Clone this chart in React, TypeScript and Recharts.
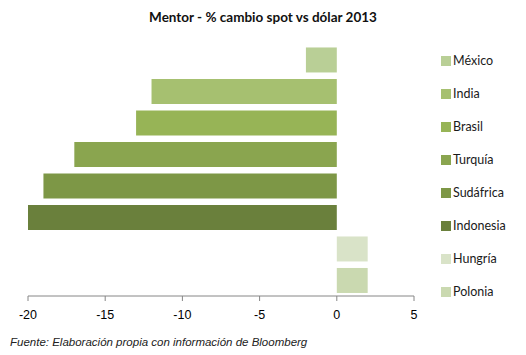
import React from "react";
import { BarChart, Bar, XAxis, YAxis, Cell } from "recharts";

// % change of spot rate vs US dollar, 2013
const countries = ["México", "India", "Brasil", "Turquía", "Sudáfrica", "Indonesia", "Hungría", "Polonia"];
const changes = [-2, -12, -13, -17, -19, -20, 2, 2];
const colors = ["#b9cf96", "#a6c070", "#97b456", "#8aa54f", "#7d9746", "#6a803c", "#d9e3c8", "#cad9b0"];
const xTicks = [-20, -15, -10, -5, 0, 5];

const data = countries.map((name, i) => ({ name, value: changes[i] }));

const legendFont = "Lato, 'Open Sans', sans-serif";

function CountryLegend() {
  return (
    <div style={{ position: "absolute", left: 441, top: 44, display: "flex", flexDirection: "column" }}>
      {countries.map((c, i) => (
        <div key={c} style={{ display: "flex", alignItems: "center", height: 33 }}>
          <span style={{ width: 10, height: 10, background: colors[i], marginRight: 2 }} />
          <span style={{ fontFamily: legendFont, fontSize: 12.5, color: "#1a1a1a" }}>{c}</span>
        </div>
      ))}
    </div>
  );
}

export default function App() {
  return (
    <div style={{ position: "absolute", left: 0, top: 0, width: 526, height: 355, background: "#fff" }}>
      <div
        style={{
          position: "absolute", top: 9, left: 0, width: 526, textAlign: "center",
          fontFamily: legendFont, fontWeight: 700, fontSize: 13.5, color: "#111",
        }}
      >
        Mentor - % cambio spot vs dólar 2013
      </div>
      <BarChart
        width={526}
        height={355}
        data={data}
        layout="vertical"
        margin={{ top: 44, right: 112, bottom: 29, left: 28 }}
        barCategoryGap="11%"
      >
        <XAxis
          type="number"
          domain={[-20, 5]}
          ticks={xTicks}
          interval={0}
          axisLine={{ stroke: "#868686" }}
          tickLine={{ stroke: "#868686" }}
          tickSize={5}
          tickMargin={9}
          tick={{ fontFamily: "'Liberation Sans', Arial, sans-serif", fontSize: 12.5, fill: "#000" }}
          height={30}
        />
        <YAxis type="category" dataKey="name" hide />
        <Bar dataKey="value" isAnimationActive={false}>
          {data.map((d, i) => (
            <Cell key={d.name} fill={colors[i]} />
          ))}
        </Bar>
      </BarChart>
      <CountryLegend />
      <div
        style={{
          position: "absolute", top: 336, left: 10,
          fontFamily: "'Liberation Sans', Arial, sans-serif", fontStyle: "italic", fontSize: 11.5, color: "#222",
        }}
      >
        Fuente: Elaboración propia con información de Bloomberg
      </div>
    </div>
  );
}
